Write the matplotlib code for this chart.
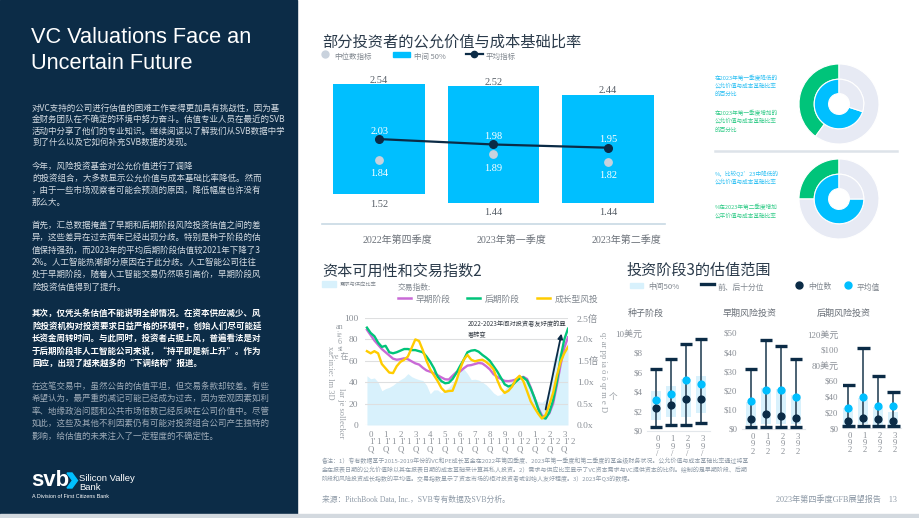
import matplotlib
matplotlib.use('Agg')
import matplotlib.pyplot as plt
import numpy as np
from matplotlib.patches import Rectangle, Polygon
from matplotlib.lines import Line2D

# ---------------- data ----------------
top_categories = ['2022年第四季度', '2023年第一季度', '2023年第二季度']
top_low = [1.52, 1.44, 1.44]
top_high = [2.54, 2.52, 2.44]
top_mean = [2.03, 1.98, 1.95]
top_median = [1.84, 1.89, 1.82]

donut1_outer = [40, 60]   # decreased share (green) vs rest
donut1_inner = [70, 30]   # cyan vs rest
donut2_outer = [25, 75]
donut2_inner = [75, 25]

# quarterly, Q4'09 .. Q2'23 (position on time axis)
quarters = np.arange(2009.75, 2023.26, 0.25)
early_stage = [89, 84, 79, 75, 71, 68, 65, 62, 61, 61.5, 62.3, 61.5, 59.5, 57.6, 56.5, 53.5, 51,
               49.8, 48.3, 46.5, 44.5, 42.7, 42.5, 46, 49.3, 50, 53, 55.5, 56, 57, 58, 57.5, 55,
               52, 47.5, 45, 43, 41.2, 41, 41.5, 42.5, 44, 45, 43, 35, 25, 16, 9, 7, 11, 20, 37,
               56, 72, 82]
late_stage = [91, 86, 83, 77, 73, 74, 68, 67, 68, 69.5, 71, 71, 70, 70, 69, 68, 64, 59, 53, 45,
              41, 39, 39.5, 43, 48.5, 55, 61, 68, 69.5, 70, 68.5, 65.5, 63, 60, 55, 50, 44, 38, 36,
              37, 40.5, 43.5, 44.5, 41.5, 34, 25.5, 15, 7, 6, 12, 23, 40, 63, 80, 90]
growth_stage = [69, 67, 69, 67, 57, 53, 49, 48.5, 55, 59, 61, 64, 72, 80, 78.5, 70, 60, 52, 46.5,
                41, 34.5, 31, 31.8, 32, 41, 52, 61, 65.5, 61, 59.5, 60.5, 61, 59, 56, 52, 42, 34,
                30, 32, 36, 42.7, 46, 41, 31.6, 22, 16, 10.5, 6, 9.5, 19, 30, 46, 59, 67, 73]
demand_supply = [1.15, 1.08, 1.10, 1.00, 0.80, 0.85, 0.88, 0.93, 1.00, 1.06, 1.11, 1.20, 1.13,
                 1.09, 1.06, 1.04, 0.93, 0.73, 0.82, 0.82, 0.75, 0.82, 0.88, 0.98, 1.10, 1.25,
                 1.31, 1.20, 1.06, 1.07, 1.05, 1.00, 0.94, 0.85, 0.75, 0.69, 0.71, 0.83, 0.95,
                 1.00, 1.07, 1.05, 1.04, 1.00, 0.83, 0.65, 0.55, 0.53, 0.60, 0.88, 1.50, 1.75,
                 1.63, 1.78, 1.93]
year_ticks = list(range(2010, 2024))
left_ticks = [0, 20, 40, 60, 80, 100]
right_ticks = [0, 0.5, 1.0, 1.5, 2.0, 2.5]
right_labels = ['0.0x', '0.5x', '1.0x', '1.5倍', '2.0x', '2.5倍']

stage_titles = ['种子阶段', '早期风险投资', '后期风险投资']
seed_p10 = [0.45, 0.65, 0.65, 0.78]
seed_p90 = [6.3, 7.35, 8.9, 9.35]
seed_q1 = [1.15, 1.4, 1.46, 1.8]
seed_q3 = [4.1, 4.6, 5.3, 5.65]
seed_med = [2.3, 2.7, 3.27, 3.27]
seed_mean = [3.2, 3.8, 5.2, 4.8]
early_p10 = [1.0, 1.0, 1.0, 1.0]
early_p90 = [31, 46.4, 43.4, 36.3]
early_q1 = [2, 2.5, 2.5, 2.5]
early_q3 = [14.2, 21.2, 21, 17.7]
early_med = [5.2, 7.8, 6.9, 5.9]
early_mean = [14.6, 20.3, 20.3, 16.8]
late_p10 = [2.5, 2.5, 2.5, 2.5]
late_p90 = [54.8, 102, 66.6, 46.3]
late_q1 = [4, 5, 4, 4]
late_q3 = [25, 37.8, 27, 20]
late_med = [9.3, 13.1, 11.5, 8.9]
late_mean = [25.9, 40, 28, 28]
seed_ticks = [0, 2, 4, 6, 8, 10]
seed_labels = ['$0', '$2', '$4', '$6', '$8', '10美元']
early_ticks = [0, 10, 20, 30, 40, 50]
early_labels = ['$0', '$10', '$20', '$30', '$40', '$50']
late_ticks = [0, 20, 40, 60, 80, 100, 120]
late_labels = ['$0', '$20', '$40', '$60', '80美元', '$100', '120美元']
period_digits = ['0', '1', '2', '3']

# ---------------- style ----------------
W, H = 920, 518
CJK = ['Noto Sans CJK SC', 'DejaVu Sans']
SERIF = ['Liberation Serif', 'Noto Sans CJK SC', 'DejaVu Sans']
LAT = ['Liberation Sans', 'DejaVu Sans']
plt.rcParams['font.family'] = CJK
plt.rcParams['axes.unicode_minus'] = False

NAVY = '#0b2b46'
PANEL = '#0c2c47'
CYAN = '#00bfff'
GREEN = '#00c47a'
PURPLE = '#c96ad6'
YELLOW = '#ffcc00'
LIGHT = '#e7eaf4'
AREA = '#d8f1fc'
GRAY = '#80878f'
TITLE = '#2a3a4a'

fig = plt.figure(figsize=(9.2, 5.18), dpi=100)
fig.patch.set_facecolor('white')


def fx(x):
    return x / W


def fy(y):
    return 1 - y / H


def T(x, y, s, **kw):
    kw.setdefault('va', 'center')
    kw.setdefault('ha', 'left')
    return fig.text(fx(x), fy(y), s, **kw)


def AX(x0, y0, x1, y1):
    return fig.add_axes([x0 / W, 1 - y1 / H, (x1 - x0) / W, (y1 - y0) / H])


def clean(ax):
    for s in ax.spines.values():
        s.set_visible(False)
    ax.tick_params(length=0)


# ---------------- left panel ----------------
fig.add_artist(Rectangle((0, fy(514)), fx(297), 514 / H, transform=fig.transFigure,
                         color=PANEL, zorder=-2))
fig.add_artist(Rectangle((0, 0), 1, 4 / H, transform=fig.transFigure,
                         color='#d3d9df', zorder=-2))

T(31, 37.5, 'VC Valuations Face an', color='white', fontsize=15.7, family=LAT)
T(31, 63.5, 'Uncertain Future', color='white', fontsize=15.7, family=LAT)

paras = [
    (['对VC支持的公司进行估值的困难工作变得更加具有挑战性，因为基',
      '金财务团队在不确定的环境中努力奋斗。估值专业人员在最近的SVB',
      '活动中分享了他们的专业知识。继续阅读以了解我们从SVB数据中学',
      '到了什么以及它如何补充SVB数据的发现。'],
     [108.3, 119.6, 130.9, 142.2], '#d5dce3', 'normal'),
    (['今年，风险投资基金对公允价值进行了调降',
      '的投资组合，大多数显示公允价值与成本基础比率降低。然而',
      '，由于一些市场观察者可能会预测的原因，降低幅度也许没有',
      '那么大。'],
     [166, 178, 190, 202], '#d5dce3', 'normal'),
    (['首先，汇总数据掩盖了早期和后期阶段风险投资估值之间的差',
      '异，这些差异在过去两年已经出现分歧。特别是种子阶段的估',
      '值保持强劲，而2023年的平均后期阶段估值较2021年下降了3',
      '2%。人工智能热潮部分原因在于此分歧。人工智能公司往往',
      '处于早期阶段，随着人工智能交易仍然吸引高价，早期阶段风',
      '险投资估值得到了提升。'],
     [225, 237.4, 249.8, 262.2, 274.6, 287], '#d5dce3', 'normal'),
    (['其次，仅凭头条估值不能说明全部情况。在资本供应减少、风',
      '险投资机构对投资要求日益严格的环境中，创始人们尽可能延',
      '长资金周转时间。与此同时，投资者占据上风，普遍看法是对',
      '于后期阶段非人工智能公司来说，“持平即是新上升”。作为',
      '回应，出现了越来越多的“下调结构”报道。'],
     [313.3, 325.8, 338.3, 350.8, 363.3], 'white', 'bold'),
    (['在这笔交易中，虽然公告的估值平坦，但交易条款却较差。有些',
      '希望认为，最严重的减记可能已经成为过去，因为宏观因素如利',
      '率、地缘政治问题和公共市场倍数已经反映在公司价值中。尽管',
      '如此，这些及其他不利因素仍有可能对投资组合公司产生独特的',
      '影响，给估值的未来注入了一定程度的不确定性。'],
     [386, 398.5, 411, 423.5, 436], '#9eabb8', 'normal'),
]
for lines, ys, col, wt in paras:
    for s, y in zip(lines, ys):
        T(32, y, s, color=col, fontsize=6.1, fontweight=wt)

# svb logo
T(31, 481, 'svb', color='white', fontsize=16, fontweight='bold', family=LAT)
fig.add_artist(Polygon([(fx(67), fy(473)), (fx(72), fy(473)), (fx(77.5), fy(480.5)),
                        (fx(72), fy(488)), (fx(67), fy(488)), (fx(72.5), fy(480.5))],
                       closed=True, transform=fig.transFigure, color=CYAN))
T(79, 478.5, 'Silicon Valley', color='white', fontsize=6.8, family=LAT)
T(79, 487.5, 'Bank', color='white', fontsize=6.8, family=LAT)
T(32, 497, 'A Division of First Citizens Bank', color='white', fontsize=3.9, family=LAT)

# ---------------- top chart ----------------
T(322, 42, '部分投资者的公允价值与成本基础比率', color=TITLE, fontsize=11)
fig.add_artist(Line2D([fx(325)], [fy(54)], marker='o', ms=5, color='#c9d2dd',
                      transform=fig.transFigure))
T(334, 56.5, '中位数指标', color=GRAY, fontsize=5.4)
fig.add_artist(Rectangle((fx(393), fy(56.5)), fx(410) - fx(393), 4.5 / H,
                         transform=fig.transFigure, color=CYAN))
T(414, 56.5, '中间 50%', color=GRAY, fontsize=5.4)
fig.add_artist(Line2D([fx(466), fx(483)], [fy(54), fy(54)], color=NAVY, lw=1.6,
                      transform=fig.transFigure))
fig.add_artist(Line2D([fx(474.5)], [fy(54)], marker='o', ms=4.5, color=NAVY,
                      transform=fig.transFigure))
T(486, 56.5, '平均指标', color=GRAY, fontsize=5.4)

ax1 = AX(322, 67, 665, 224)
xi = np.arange(len(top_categories))
ax1.bar(xi, np.array(top_high) - np.array(top_low), bottom=top_low, width=0.8,
        color=CYAN, zorder=1)
ax1.plot(xi, top_mean, color=NAVY, lw=1.6, marker='o', ms=5.5, zorder=3)
ax1.scatter(xi, top_median, s=28, color='#c9d2dd', zorder=4)
ax1.set_xlim(-0.5, 2.5)
ax1.set_ylim(1.241, 2.70)
clean(ax1)
ax1.spines['bottom'].set_visible(True)
ax1.spines['bottom'].set_color('#c8d9e4')
ax1.spines['bottom'].set_linewidth(1.2)
ax1.set_xticks([])
ax1.set_yticks([])
for i in xi:
    ax1.text(i, top_high[i] + 0.037, f'{top_high[i]:.2f}', ha='center', va='center',
             color='#555d66', fontsize=7.5, family=SERIF)
    ax1.text(i, top_low[i] - 0.095, f'{top_low[i]:.2f}', ha='center', va='center',
             color='#555d66', fontsize=7.5, family=SERIF)
    ax1.text(i, top_mean[i] + 0.073, f'{top_mean[i]:.2f}', ha='center', va='center',
             color='white', fontsize=7.5, family=SERIF)
    ax1.text(i, top_median[i] - 0.13, f'{top_median[i]:.2f}', ha='center', va='center',
             color='white', fontsize=7.5, family=SERIF)
    ax1.text(i + 0.16, -0.102, top_categories[i], ha='center', va='center',
             color='#6b7179', fontsize=7.2, family=SERIF,
             transform=ax1.get_xaxis_transform())

# ---------------- donuts ----------------
def donut(cx, cy, outer, inner):
    ax = AX(cx - 41, cy - 41, cx + 41, cy + 41)
    ax.pie(outer, radius=1.0, colors=[GREEN, LIGHT], startangle=90, counterclock=True,
           wedgeprops=dict(width=0.38, edgecolor='white', linewidth=0.8))
    ax.pie(inner, radius=0.62, colors=[CYAN, LIGHT], startangle=90, counterclock=True,
           wedgeprops=dict(width=0.36, edgecolor='white', linewidth=0.8))
    ax.set_xlim(-1.025, 1.025)
    ax.set_ylim(-1.025, 1.025)
    ax.set_aspect('equal')
    ax.axis('off')


donut(839, 104, donut1_outer, donut1_inner)
donut(839, 199, donut2_outer, donut2_inner)

CYT = '#2fc0f3'
GRT = '#35cc8a'
for s, y in zip(['在2023年第一季度降低的', '公允价值与成本基础比率', '的百分比'], [78.3, 86.3, 94.3]):
    T(715, y, s, color=CYT, fontsize=4.1)
for s, y in zip(['在2023年第一季度增加的', '公允价值与成本基础比率', '的百分比'], [113, 121.5, 130]):
    T(715, y, s, color=GRT, fontsize=4.1)
fig.add_artist(Line2D([fx(715), fx(897)], [fy(151), fy(151)], color='#dde3e9', lw=1.8,
                      transform=fig.transFigure))
for s, y in zip(['%，比较Q2’23中降低的', '公允价值与成本基础比率'], [174.3, 182.3]):
    T(715, y, s, color=CYT, fontsize=4.1)
for s, y in zip(['%在2023年第二季度增加', '公平价值与成本基础比率'], [207.7, 215.7]):
    T(715, y, s, color=GRT, fontsize=4.1)

# ---------------- bottom-left chart ----------------
T(322, 271, '资本可用性和交易指数2', color=TITLE, fontsize=10.9)
fig.add_artist(Rectangle((fx(322), fy(287)), fx(336) - fx(322), 6 / H,
                         transform=fig.transFigure, color=AREA))
T(340, 284, '需求与供应比率', color=GRAY, fontsize=3.8)
T(398, 287.5, '交易指数:', color=GRAY, fontsize=5.6)
for (x0, col, lab) in [(398, PURPLE, '早期阶段'), (467, GREEN, '后期阶段'), (537, YELLOW, '成长型风投')]:
    fig.add_artist(Line2D([fx(x0), fx(x0 + 13)], [fy(297.5), fy(297.5)], color=col, lw=1.8,
                          transform=fig.transFigure))
    T(x0 + 18, 299.5, lab, color=GRAY, fontsize=6.3)

axL = AX(365, 318, 568, 425)
axR = axL.twinx()
axR.fill_between(quarters, 0, demand_supply, color=AREA, lw=0)
axR.set_ylim(0, 2.5)
axL.set_zorder(axR.get_zorder() + 1)
axL.patch.set_visible(False)
axL.plot(quarters, early_stage, color=PURPLE, lw=1.7, zorder=3)
axL.plot(quarters, late_stage, color=GREEN, lw=1.7, zorder=3)
axL.plot(quarters, growth_stage, color=YELLOW, lw=1.7, zorder=3)
axL.set_xlim(2009.62, 2023.25)
axL.set_ylim(0, 100)
axL.set_yticks(left_ticks)
axL.grid(axis='y', color='#dedfe0', lw=0.8)
axL.set_axisbelow(True)
axL.set_xticks([])
axR.set_yticks(right_ticks)
axR.set_yticklabels(right_labels)
for a in (axL, axR):
    clean(a)
axL.tick_params(axis='y', pad=5, labelsize=6.8, labelcolor='#8a8f96')
axR.tick_params(axis='y', pad=6.5, labelsize=6.8, labelcolor='#8a8f96')
for lbl in axL.get_yticklabels() + axR.get_yticklabels():
    lbl.set_family(SERIF)
xt = axL.get_xaxis_transform()
for yr in year_ticks:
    axL.text(yr, -0.093, str(yr % 10), transform=xt, ha='center', va='center',
             fontsize=6.3, color='#8a8f96', family=SERIF)
    axL.text(yr + 0.1, -0.16, "1'", transform=xt, ha='center', va='center',
             fontsize=6.3, color='#8a8f96', family=SERIF)
    axL.text(yr + 0.55, -0.16, str((yr // 10) % 10), transform=xt, ha='center', va='center',
             fontsize=6.3, color='#8a8f96', family=SERIF)
    axL.text(yr, -0.225, 'Q', transform=xt, ha='center', va='center',
             fontsize=6.3, color='#8a8f96', family=SERIF)
axL.annotate('', xy=(2022.85, 88), xytext=(2021.71, 12),
             arrowprops=dict(arrowstyle='-|>', color=NAVY, lw=1.3, mutation_scale=7))
axL.text(2016.54, 97.5, '2022-2023年间对投资者友好度的显\n著转变', fontsize=4.5, va='top',
         ha='left', color='#333a42', linespacing=1.45)

# garbled rotated axis-title remnants
T(330, 373, 'xa: in:ie: lm 3D', color='#9aa0a6', fontsize=6.0, rotation=-90,
  ha='center', family=SERIF)
T(340, 342, 'an\nie\n6\nst\nve 在', color='#9aa0a6', fontsize=5.8, ha='center',
  family=SERIF, linespacing=0.9)
T(341, 413, 'lar je sollecker', color='#9aa0a6', fontsize=6.0, rotation=-90,
  ha='center', family=SERIF)
T(603, 372, 'q: ar pp ia ŏ ŏ qr m e D', color='#9aa0a6', fontsize=6.2, rotation=-90,
  ha='center', family=SERIF)
T(613, 397, '个', color='#9aa0a6', fontsize=6.2, ha='center')

# ---------------- bottom-right chart ----------------
T(627, 270, '投资阶段3的估值范围', color=TITLE, fontsize=10.9)
fig.add_artist(Rectangle((fx(630), fy(288)), fx(643) - fx(630), 5.5 / H,
                         transform=fig.transFigure, color=AREA))
T(648, 287.5, '中间50%', color=GRAY, fontsize=5.6)
fig.add_artist(Line2D([fx(701), fx(714)], [fy(284), fy(284)], color=NAVY, lw=2.4,
                      transform=fig.transFigure))
T(718, 287.5, '前、后十分位', color=GRAY, fontsize=5.6)
fig.add_artist(Line2D([fx(799)], [fy(284.5)], marker='o', ms=5, color=NAVY,
                      transform=fig.transFigure))
T(808, 287.5, '中位数', color=GRAY, fontsize=5.6)
fig.add_artist(Line2D([fx(848)], [fy(284.5)], marker='o', ms=5, color=CYAN,
                      transform=fig.transFigure))
T(857, 287.5, '平均值', color=GRAY, fontsize=5.6)

stages = [
    (stage_titles[0], (647, 333, 710, 431), (-0.6, 3.6), (0, 10), seed_ticks, seed_labels,
     seed_p10, seed_p90, seed_q1, seed_q3, seed_med, seed_mean, 628, '/'),
    (stage_titles[1], (742, 333, 805, 429), (-0.6, 3.6), (0, 50), early_ticks, early_labels,
     early_p10, early_p90, early_q1, early_q3, early_med, early_mean, 723, '2'),
    (stage_titles[2], (843, 334, 901, 428), (-0.35, 3.52), (0, 120), late_ticks, late_labels,
     late_p10, late_p90, late_q1, late_q3, late_med, late_mean, 817, '2'),
]
for (title, box, xl, yl, yt, ylab, p10, p90, q1, q3, med, mean, tx, third) in stages:
    T(tx, 313, title, color='#6b7179', fontsize=6.5)
    ax = AX(*box)
    pos = np.arange(len(p10))
    ax.bar(pos, np.array(q3) - np.array(q1), bottom=q1, width=0.65, color=AREA, zorder=1)
    ax.vlines(pos, p10, p90, color='#3d5568', lw=1.3, zorder=2)
    ax.hlines(p90, pos - 0.42, pos + 0.42, color=NAVY, lw=2.4, zorder=3)
    ax.hlines(p10, pos - 0.42, pos + 0.42, color=NAVY, lw=2.4, zorder=3, clip_on=False)
    ax.scatter(pos, med, s=24, color=NAVY, zorder=4)
    ax.scatter(pos, mean, s=24, color=CYAN, zorder=5)
    ax.set_xlim(*xl)
    ax.set_ylim(*yl)
    clean(ax)
    ax.spines['bottom'].set_visible(True)
    ax.spines['bottom'].set_color('#e3e7eb')
    ax.set_xticks([])
    ax.set_yticks(yt)
    ax.set_yticklabels(ylab)
    ax.tick_params(axis='y', pad=3.5, labelsize=6.5, labelcolor='#8a8f96')
    for lbl in ax.get_yticklabels():
        lbl.set_family(SERIF)
    for i, d in zip(pos, period_digits):
        ax.text(i + 0.1, -0.045, f'{d}\n9\n{third}', transform=ax.get_xaxis_transform(),
                ha='center', va='top', fontsize=6.2, color='#8a8f96', family=SERIF,
                linespacing=0.85)

# ---------------- footnotes ----------------
notes = ['备注：1）专有数据基于2015-2019年份的VC和PE成长基金在2022年第四季度、2023年第一季度和第二季度的基金级财务状况。公允价值与成本基础比率通过将基',
         '金在报表日期的公允价值除以其在报表日期的成本基础来计算其私人投资。2）需求与供应比率显示了VC资本需求与VC提供资本的比例。绘制的是早期阶段、后期',
         '阶段和风险投资成长指数的平均值。交易指数显示了资本市场的相对投资者或创始人友好程度。3）2023年Q3的数据。']
for s, y in zip(notes, [461, 470, 479]):
    T(322, y, s, color='#8d99a6', fontsize=4.3)
T(322, 499.5, '来源：PitchBook Data, Inc.，SVB专有数据及SVB分析。', color='#8d99a6', fontsize=5.6,
  family=['Liberation Serif', 'Noto Sans CJK SC'])
T(897, 499.5, '2023年第四季度GFB展望报告    13', color='#8d99a6', fontsize=5.9, ha='right',
  family=['Liberation Serif', 'Noto Sans CJK SC'])

fig.savefig('out.png', dpi=100)
